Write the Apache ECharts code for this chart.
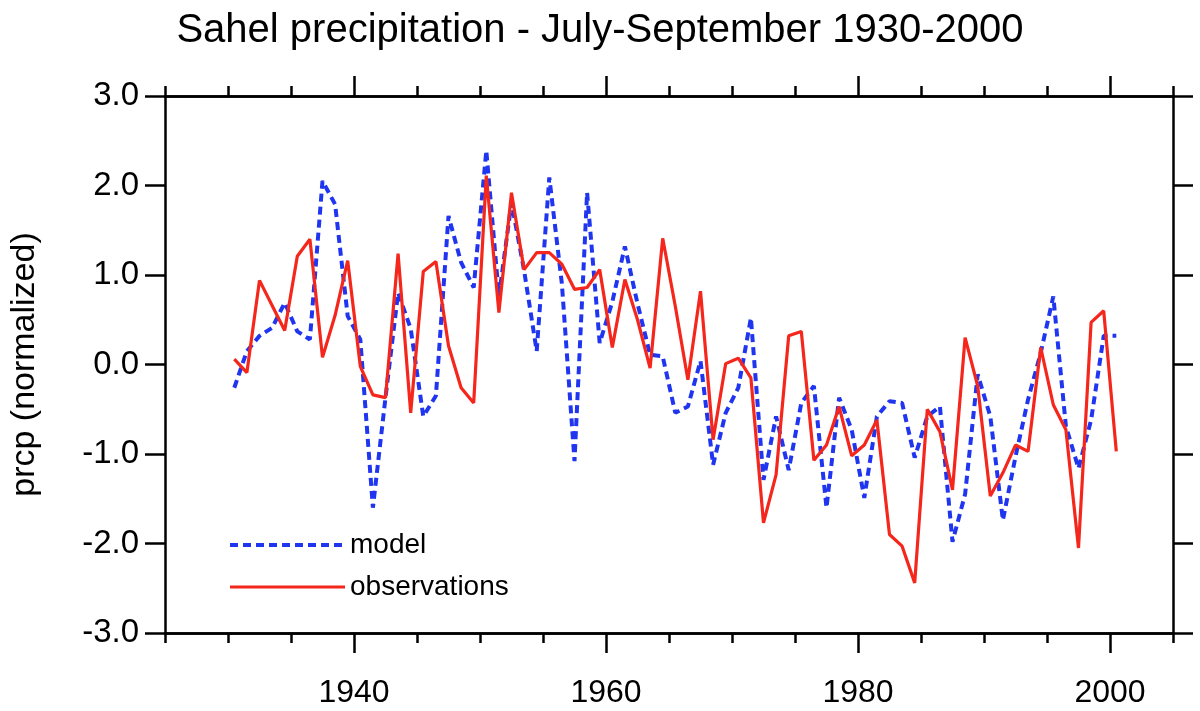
<!DOCTYPE html>
<html>
<head>
<meta charset="utf-8">
<script src="https://cdn.jsdelivr.net/npm/echarts@6/dist/echarts.min.js"></script>
<style>
html,body{margin:0;padding:0;background:#fff;}
#c{width:1200px;height:711px;}
</style>
</head>
<body>
<div id="c"></div>
<script>
const years = [];
for (let y = 1930; y <= 2000; y++) years.push(y);

const model = [
 -0.26, 0.15, 0.32, 0.41, 0.69, 0.37, 0.28, 2.05, 1.79, 0.54,
  0.28,-1.60,-0.37, 0.80, 0.40,-0.58,-0.35, 1.66, 1.14, 0.86,
  2.39, 0.76, 1.81, 1.05, 0.15, 2.09, 0.90,-1.08, 1.92, 0.24,
  0.70, 1.32, 0.68, 0.11, 0.09,-0.54,-0.47, 0.04,-1.12,-0.54,
 -0.26, 0.52,-1.29,-0.58,-1.18,-0.43,-0.24,-1.60,-0.37,-0.73,
 -1.49,-0.58,-0.41,-0.43,-1.04,-0.58,-0.47,-1.98,-1.45,-0.11,
 -0.58,-1.74,-1.03,-0.39, 0.13, 0.76,-0.69,-1.16,-0.62, 0.32,
  0.32
];

const observations = [
  0.06,-0.09, 0.94, 0.66, 0.38, 1.21, 1.40, 0.08, 0.55, 1.16,
 -0.02,-0.34,-0.37, 1.24,-0.54, 1.04, 1.15, 0.21,-0.26,-0.43,
  2.11, 0.58, 1.92, 1.06, 1.25, 1.25, 1.12, 0.84, 0.86, 1.06,
  0.19, 0.95, 0.50,-0.04, 1.41, 0.65,-0.17, 0.82,-0.84, 0.01,
  0.07,-0.15,-1.77,-1.23, 0.32, 0.37,-1.07,-0.90,-0.47,-1.02,
 -0.90,-0.62,-1.90,-2.03,-2.44,-0.50,-0.75,-1.40, 0.30,-0.24,
 -1.47,-1.21,-0.90,-0.97, 0.19,-0.45,-0.73,-2.05, 0.47, 0.60,
 -0.97
];

const majorYearTicks = [1940, 1960, 1980, 2000];
const minorYearTicks = [1925,1930,1935,1945,1950,1955,1965,1970,1975,1985,1990,1995,2005];

// mid-season position of each year on the time axis
const seasonOffset = 0.5;
const modelData = years.map((y, i) => [y + seasonOffset, model[i]]);
const obsData = years.map((y, i) => [y + seasonOffset, observations[i]]);

const FONT = '"Liberation Sans", Arial, Helvetica, sans-serif';
const AX = { color: '#000', width: 2.5 };
const BLUE = '#1f35f0', RED = '#f5261b';

function xAxisDef(position, ticks, len, showLabel) {
  return {
    type: 'value', min: 1925, max: 2005, position: position,
    axisLine: { show: true, onZero: false, lineStyle: AX },
    axisTick: { show: true, customValues: ticks, length: len, inside: false, lineStyle: { color: '#000', width: 2.5 } },
    axisLabel: showLabel ? { show: true, customValues: ticks, fontSize: 32, fontFamily: FONT, color: '#000', margin: 44,
      formatter: v => String(Math.round(v)) } : { show: false },
    splitLine: { show: false }
  };
}
function yAxisDef(position, showLabel) {
  const d = {
    type: 'value', min: -3, max: 3, interval: 1, position: position,
    axisLine: { show: true, onZero: false, lineStyle: AX },
    axisTick: { show: true, length: 20, inside: false, lineStyle: { color: '#000', width: 2.5 } },
    axisLabel: showLabel ? { show: true, fontSize: 33, fontFamily: FONT, color: '#000', margin: 26,
      formatter: v => v.toFixed(1) } : { show: false },
    splitLine: { show: false }
  };
  if (showLabel) {
    d.name = 'prcp (normalized)';
    d.nameLocation = 'middle';
    d.nameRotate = 90;
    d.nameGap = 123;
    d.nameTextStyle = { fontSize: 34, fontFamily: FONT, color: '#000' };
  }
  return d;
}

const chart = echarts.init(document.getElementById('c'), null, { renderer: 'canvas' });
chart.setOption({
  animation: false,
  backgroundColor: '#fff',
  title: {
    text: 'Sahel precipitation - July-September 1930-2000',
    left: 'center', top: 6,
    textStyle: { fontSize: 40, fontWeight: 'normal', fontFamily: FONT, color: '#000' }
  },
  grid: { left: 165, right: 27, top: 96, bottom: 78, containLabel: false },
  legend: {
    orient: 'vertical', left: 228, top: 530, padding: 0,
    itemWidth: 115, itemHeight: 14, itemGap: 12,
    itemStyle: { opacity: 0 },
    textStyle: { fontSize: 28, fontFamily: FONT, color: '#000', lineHeight: 30 },
    data: [
      { name: 'model', lineStyle: { width: 4, type: [8, 5], color: BLUE } },
      { name: 'observations', lineStyle: { width: 3.2, color: RED } }
    ]
  },
  xAxis: [
    xAxisDef('bottom', majorYearTicks, 20, true),
    xAxisDef('bottom', minorYearTicks, 10, false),
    xAxisDef('top', majorYearTicks, 20, false),
    xAxisDef('top', minorYearTicks, 10, false)
  ],
  yAxis: [ yAxisDef('left', true), yAxisDef('right', false) ],
  series: [
    { name: 'model', type: 'line', xAxisIndex: 0, yAxisIndex: 0, data: modelData,
      showSymbol: false, symbol: 'none',
      lineStyle: { color: BLUE, width: 4, type: [8, 5] }, itemStyle: { color: BLUE } },
    { name: 'observations', type: 'line', xAxisIndex: 0, yAxisIndex: 0, data: obsData,
      showSymbol: false, symbol: 'none',
      lineStyle: { color: RED, width: 3.2 }, itemStyle: { color: RED } }
  ]
});
</script>
</body>
</html>
